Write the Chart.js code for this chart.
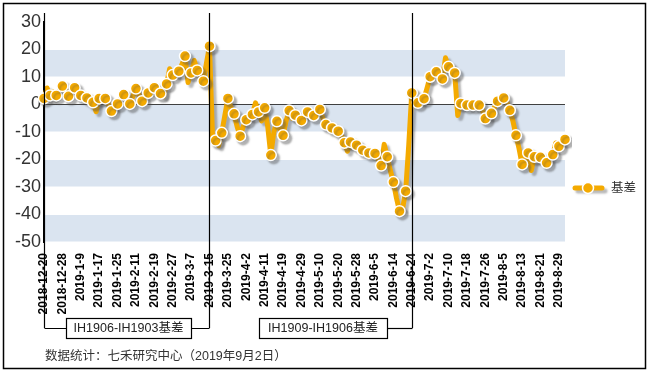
<!DOCTYPE html>
<html>
<head>
<meta charset="utf-8">
<title>基差</title>
<script src="https://cdn.jsdelivr.net/npm/chart.js@4.4.1/dist/chart.umd.min.js"></script>
<style>
  html, body { margin: 0; padding: 0; background: #fff; }
  #wrap { width: 650px; height: 373px; }
</style>
</head>
<body>
<div id="wrap"><canvas id="chart" width="650" height="373"></canvas></div>
<script>
// trading days, 2018-12-20 .. 2019-9-2
const dates = [
    '2018-12-20','2018-12-21','2018-12-24','2018-12-25','2018-12-26','2018-12-27','2018-12-28',
    '2019-1-2','2019-1-3','2019-1-4','2019-1-7','2019-1-8','2019-1-9','2019-1-10','2019-1-11',
    '2019-1-14','2019-1-15','2019-1-16','2019-1-17','2019-1-18','2019-1-21','2019-1-22','2019-1-23',
    '2019-1-24','2019-1-25','2019-1-28','2019-1-29','2019-1-30','2019-1-31','2019-2-1',
    '2019-2-11','2019-2-12','2019-2-13','2019-2-14','2019-2-15','2019-2-18','2019-2-19','2019-2-20',
    '2019-2-21','2019-2-22','2019-2-25','2019-2-26','2019-2-27','2019-2-28',
    '2019-3-1','2019-3-4','2019-3-5','2019-3-6','2019-3-7','2019-3-8','2019-3-11','2019-3-12',
    '2019-3-13','2019-3-14','2019-3-15','2019-3-18','2019-3-19','2019-3-20','2019-3-21','2019-3-22',
    '2019-3-25','2019-3-26','2019-3-27','2019-3-28','2019-3-29',
    '2019-4-1','2019-4-2','2019-4-3','2019-4-4','2019-4-8','2019-4-9','2019-4-10','2019-4-11',
    '2019-4-12','2019-4-15','2019-4-16','2019-4-17','2019-4-18','2019-4-19','2019-4-22','2019-4-23',
    '2019-4-24','2019-4-25','2019-4-26','2019-4-29','2019-4-30',
    '2019-5-6','2019-5-7','2019-5-8','2019-5-9','2019-5-10','2019-5-13','2019-5-14','2019-5-15',
    '2019-5-16','2019-5-17','2019-5-20','2019-5-21','2019-5-22','2019-5-23','2019-5-24','2019-5-27',
    '2019-5-28','2019-5-29','2019-5-30','2019-5-31',
    '2019-6-3','2019-6-4','2019-6-5','2019-6-6','2019-6-10','2019-6-11','2019-6-12','2019-6-13',
    '2019-6-14','2019-6-17','2019-6-18','2019-6-19','2019-6-20','2019-6-21','2019-6-24','2019-6-25',
    '2019-6-26','2019-6-27','2019-6-28',
    '2019-7-1','2019-7-2','2019-7-3','2019-7-4','2019-7-5','2019-7-8','2019-7-9','2019-7-10',
    '2019-7-11','2019-7-12','2019-7-15','2019-7-16','2019-7-17','2019-7-18','2019-7-19','2019-7-22',
    '2019-7-23','2019-7-24','2019-7-25','2019-7-26','2019-7-29','2019-7-30','2019-7-31',
    '2019-8-1','2019-8-2','2019-8-5','2019-8-6','2019-8-7','2019-8-8','2019-8-9','2019-8-12',
    '2019-8-13','2019-8-14','2019-8-15','2019-8-16','2019-8-19','2019-8-20','2019-8-21','2019-8-22',
    '2019-8-23','2019-8-26','2019-8-27','2019-8-28','2019-8-29','2019-8-30',
    '2019-9-2'
];

// 基差
const basis = [
    2.2, 6.0, 3.3, 4.5, 3.3, 5.0, 6.7, 5.0, 3.0, 4.5,
    6.1, 4.5, 3.3, 3.0, 2.4, 1.5, 0.8, -2.6, 2.2, 2.0,
    2.2, 0.0, -2.4, -1.0, 0.2, 2.0, 3.6, 2.0, 0.2, 3.0,
    5.8, 3.5, 1.2, 3.0, 4.2, 5.0, 6.1, 5.5, 4.0, 3.0,
    7.5, 13.0, 10.7, 11.0, 12.1, 14.5, 17.6, 8.0, 11.5, 16.0,
    12.4, 10.0, 8.5, 15.0, 21.2, -12.0, -13.1, -15.0, -10.3, -4.0,
    2.2, -1.0, -3.4, -8.0, -11.5, -8.0, -5.5, -4.5, -3.6, 0.6,
    -2.7, -6.0, -1.2, -8.0, -18.4, -10.0, -6.1, -9.0, -11.2, -6.0,
    -2.2, -5.0, -3.9, -4.5, -5.8, -4.0, -2.7, -3.0, -4.0, -2.0,
    -1.8, -5.0, -7.3, -8.0, -8.5, -9.0, -9.7, -11.0, -13.9, -17.0,
    -13.6, -14.0, -14.8, -16.0, -16.6, -17.0, -17.6, -18.0, -17.8, -20.0,
    -22.2, -14.5, -19.0, -24.0, -28.2, -34.0, -38.8, -38.0, -31.5, -15.0,
    4.2, 1.5, 0.6, 1.0, 2.1, 6.0, 10.1, 11.0, 11.9, 11.0,
    9.3, 17.0, 13.7, 14.0, 11.5, -4.0, 0.4, 0.0, -0.2, 0.0,
    -0.2, 0.0, -0.2, -2.0, -5.1, -5.0, -3.2, -1.0, 1.2, 2.0,
    2.4, 1.0, -2.1, -6.0, -11.2, -16.0, -21.8, -20.0, -17.6, -24.0,
    -19.0, -19.0, -19.2, -20.0, -21.2, -20.0, -18.2, -14.0, -15.2, -14.0,
    -12.7
];

// contract spans marked under the axis: [start index, end index, text]
const spanStarts = [0, 54];
const spanEnds = [54, 120];
const spanTitles = ['IH1906-IH1903基差', 'IH1909-IH1906基差'];

const seriesName = '基差';
const footnote = '数据统计：七禾研究中心（2019年9月2日）';

const ORANGE = '#F4AA00';
const BAND = '#DAE4F0';
const FONT = "'Liberation Sans', Arial, 'Noto Sans CJK SC', sans-serif";

function setShadow(c) {
    c.shadowColor = 'rgba(80, 80, 80, 0.4)';
    c.shadowOffsetX = 3;
    c.shadowOffsetY = 3;
    c.shadowBlur = 2;
}

const bandsPlugin = {
    id: 'bands',
    beforeDraw(chart) {
        const c = chart.ctx;
        const area = chart.chartArea;
        const y = chart.scales.y;
        c.save();
        c.fillStyle = BAND;
        for (let v = 20; v > y.min; v -= 20) {
            const top = y.getPixelForValue(v);
            const bottom = y.getPixelForValue(v - 10);
            c.fillRect(area.left, top + 0.5, area.right - area.left, bottom - top - 1);
        }
        c.restore();
    }
};

const shadowPlugin = {
    id: 'lineShadow',
    beforeDatasetDraw(chart) {
        chart.ctx.save();
        setShadow(chart.ctx);
    },
    afterDatasetDraw(chart) {
        chart.ctx.restore();
    }
};

const extrasPlugin = {
    id: 'extras',
    afterDraw(chart) {
        const c = chart.ctx;
        const x = chart.scales.x;
        const lineTop = 13;
        const lineY = 328;
        const boxes = [[66, 191], [259, 387]];

        c.save();
        c.strokeStyle = '#000';
        c.lineWidth = 1.2;

        // vertical markers and brackets
        const verticals = [...new Set(spanStarts.concat(spanEnds))];
        verticals.forEach(i => {
            const px = Math.round(x.getPixelForValue(i)) + 0.5;
            c.beginPath();
            c.moveTo(px, lineTop);
            c.lineTo(px, lineY);
            c.stroke();
        });

        c.font = '12.5px ' + FONT;
        c.textBaseline = 'middle';
        c.textAlign = 'center';
        spanTitles.forEach((t, k) => {
            const [bl, br] = boxes[k];
            const sx = Math.round(x.getPixelForValue(spanStarts[k])) + 0.5;
            const ex = Math.round(x.getPixelForValue(spanEnds[k])) + 0.5;
            c.beginPath();
            if (k === 0) {
                c.moveTo(sx, lineY + 0.5);
                c.lineTo(bl, lineY + 0.5);
            }
            c.moveTo(br, lineY + 0.5);
            c.lineTo(ex, lineY + 0.5);
            c.stroke();
            c.fillStyle = '#fff';
            c.fillRect(bl, 318, br - bl, 20);
            c.strokeRect(bl + 0.5, 318.5, br - bl, 20);
            c.fillStyle = '#222';
            c.fillText(t, (bl + br) / 2, 329);
        });

        // legend
        const ly = 188;
        c.save();
        setShadow(c);
        c.strokeStyle = ORANGE;
        c.lineWidth = 5;
        c.lineCap = 'round';
        c.beginPath();
        c.moveTo(575, ly);
        c.lineTo(602, ly);
        c.stroke();
        c.restore();
        c.beginPath();
        c.arc(588, ly, 5.5, 0, Math.PI * 2);
        c.fillStyle = ORANGE;
        c.fill();
        c.strokeStyle = '#fff';
        c.lineWidth = 1.5;
        c.stroke();
        c.fillStyle = '#333';
        c.textAlign = 'left';
        c.font = '12.5px ' + FONT;
        c.fillText(seriesName, 611, ly + 1);

        // footnote
        c.font = '12.5px ' + FONT;
        c.fillStyle = '#333';
        c.fillText(footnote, 45, 357);

        // outer frame
        c.strokeStyle = '#000';
        c.lineWidth = 1.5;
        c.strokeRect(3.5, 3.5, 642, 365);
        c.restore();
    }
};

new Chart(document.getElementById('chart'), {
    type: 'line',
    data: {
        labels: dates,
        datasets: [{
            label: seriesName,
            data: basis,
            borderColor: ORANGE,
            borderWidth: 5,
            borderJoinStyle: 'round',
            borderCapStyle: 'round',
            backgroundColor: ORANGE,
            pointBackgroundColor: ORANGE,
            pointBorderColor: '#fff',
            pointBorderWidth: 1.5,
            pointRadius: ctx => (ctx.dataIndex % 2 === 0 ? 5.5 : 0),
            tension: 0,
            fill: false
        }]
    },
    options: {
        responsive: false,
        animation: false,
        events: [],
        layout: { padding: { left: 0, right: 85, top: 22, bottom: 0 } },
        plugins: {
            legend: { display: false },
            tooltip: { enabled: false }
        },
        scales: {
            x: {
                type: 'category',
                offset: false,
                grid: { display: false },
                border: { display: false },
                ticks: {
                    autoSkip: false,
                    maxRotation: 90,
                    minRotation: 90,
                    padding: 3,
                    color: '#000',
                    font: { family: FONT, size: 12, weight: 'bold' },
                    callback: function(value, index) {
                        return index % 6 === 0 ? this.getLabelForValue(value) : '';
                    }
                },
                afterFit: scale => { scale.height = 131; }
            },
            y: {
                min: -50,
                max: 30,
                grid: {
                    drawTicks: false,
                    color: ctx => (ctx.tick && ctx.tick.value === 0 ? '#404040' : 'rgba(0,0,0,0)'),
                    lineWidth: 1
                },
                border: { display: true, color: '#000', width: 2 },
                ticks: {
                    stepSize: 10,
                    padding: 3,
                    color: '#333',
                    font: { family: FONT, size: 18 }
                },
                afterFit: scale => { scale.width = 44; }
            }
        }
    },
    plugins: [bandsPlugin, shadowPlugin, extrasPlugin]
});
</script>
</body>
</html>
